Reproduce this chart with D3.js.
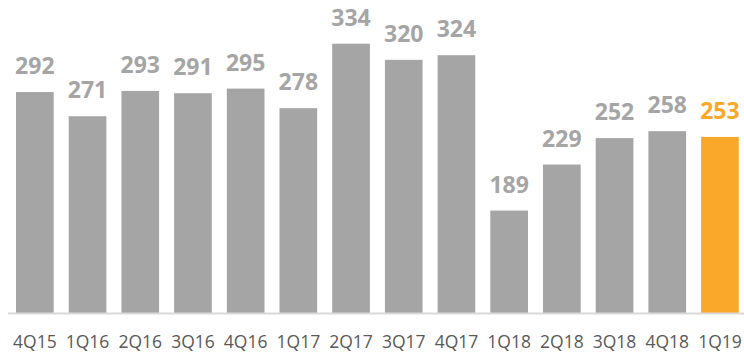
<!DOCTYPE html>
<html>
<head>
<meta charset="utf-8">
<script src="https://cdn.jsdelivr.net/npm/d3@7"></script>
<style>
body { margin: 0; background: #fff; }
</style>
</head>
<body>
<svg id="chart"></svg>
<script>
var quarters = ["4Q15","1Q16","2Q16","3Q16","4Q16","1Q17","2Q17","3Q17","4Q17","1Q18","2Q18","3Q18","4Q18","1Q19"];
var values = [292, 271, 293, 291, 295, 278, 334, 320, 324, 189, 229, 252, 258, 253];
var highlight = "1Q19";

var svgWidth = 744, svgHeight = 353;
var baseY = 313;

var svg = d3.select("#chart")
	.attr("width", svgWidth)
	.attr("height", svgHeight);

var x = d3.scaleBand()
	.domain(quarters)
	.range([8.5, 746.3])
	.paddingInner(0.285)
	.paddingOuter(0.1425);

var y = d3.scaleLinear()
	.domain([100, 372])
	.range([baseY, 0]);

var data = quarters.map(function(q, i) { return { q: q, v: values[i] }; });

function colorOf(d, bar) {
	if (d.q === highlight) return "#f9a82a";
	return bar ? "#a5a5a5" : "#a5a5a5";
}

svg.selectAll(".bar")
	.data(data)
	.enter().append("rect")
	.attr("class", "bar")
	.attr("x", function(d) { return x(d.q); })
	.attr("width", x.bandwidth())
	.attr("y", function(d) { return y(d.v); })
	.attr("height", function(d) { return baseY - y(d.v); })
	.attr("fill", function(d) { return colorOf(d, true); });

// baseline
svg.append("line")
	.attr("x1", 8)
	.attr("x2", svgWidth)
	.attr("y1", baseY + 0.5)
	.attr("y2", baseY + 0.5)
	.attr("stroke", "#d9d9d9")
	.attr("stroke-width", 2);

svg.selectAll(".val")
	.data(data)
	.enter().append("text")
	.attr("class", "val")
	.attr("x", function(d) { return x(d.q) + x.bandwidth() / 2; })
	.attr("y", function(d) { return y(d.v) - 18; })
	.attr("text-anchor", "middle")
	.attr("font-family", "'Open Sans', sans-serif")
	.attr("font-weight", "bold")
	.attr("font-size", "23px")
	.attr("fill", function(d) { return colorOf(d, false); })
	.text(function(d) { return d.v; });

var xAxis = svg.append("g")
	.attr("transform", "translate(0," + baseY + ")")
	.call(d3.axisBottom(x).tickSize(0).tickPadding(0));

xAxis.select(".domain").remove();

xAxis.selectAll("text")
	.attr("y", 35)
	.attr("dy", 0)
	.attr("font-family", "'Open Sans', sans-serif")
	.attr("font-size", "17.5px")
	.attr("fill", "#595959");
</script>
</body>
</html>
